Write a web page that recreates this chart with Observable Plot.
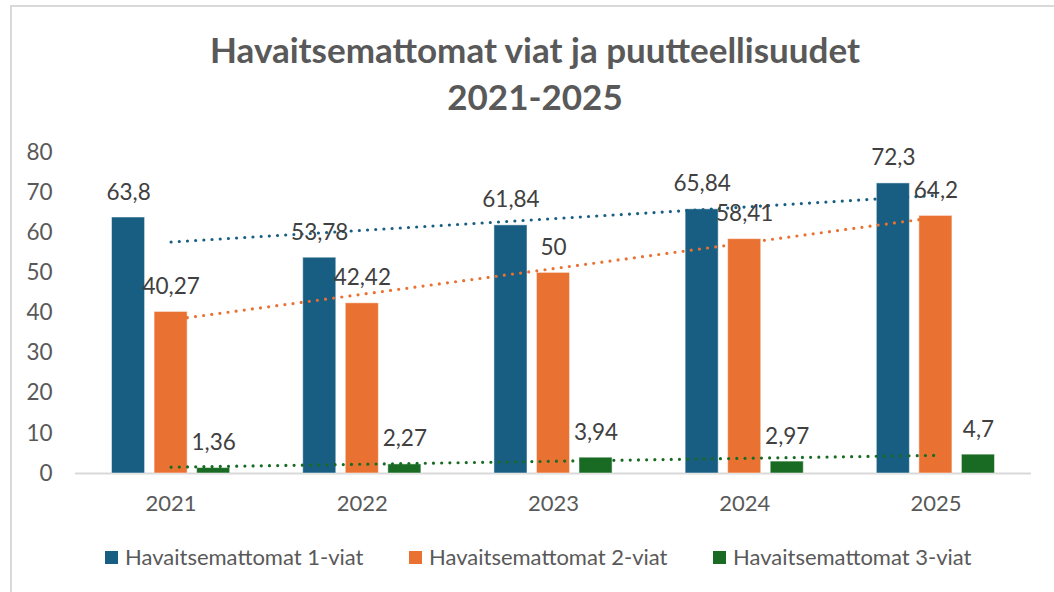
<!DOCTYPE html>
<html>
<head>
<meta charset="utf-8">
<script src="https://cdn.jsdelivr.net/npm/d3@7"></script>
<script src="https://cdn.jsdelivr.net/npm/@observablehq/plot@0.6"></script>
<style>
  html, body { margin: 0; padding: 0; background: #fff; overflow: hidden; width: 1054px; height: 592px; }
  body { position: relative; font-family: Lato, "Open Sans", sans-serif; }
  #frame { position: absolute; left: 10px; top: 5px; width: 1100px; height: 700px; border-left: 2px solid #d9d9d9; border-top: 2px solid #d9d9d9; pointer-events: none; }
  #title { height: 130px; box-sizing: border-box; padding-top: 26px; padding-left: 16px; text-align: center; font-weight: 700; font-size: 35px; line-height: 47px; color: #595959; white-space: nowrap; }
  #chart svg { display: block; }
  #legend { display: flex; padding-left: 105px; margin-top: 14px; height: 26px; line-height: 26px; font-size: 22px; color: #595959; }
  .item { width: 304px; display: flex; align-items: center; }
  .sw { width: 13px; height: 13px; margin-right: 7px; flex: none; }
</style>
</head>
<body>
<div id="frame"></div>
<div id="title">Havaitsemattomat viat ja puutteellisuudet<br>2021-2025</div>
<div id="chart"></div>
<div id="legend"></div>
<script>
const years = [2021, 2022, 2023, 2024, 2025];
const seriesNames = ["Havaitsemattomat 1-viat", "Havaitsemattomat 2-viat", "Havaitsemattomat 3-viat"];
const viat1 = [63.8, 53.78, 61.84, 65.84, 72.3];
const viat2 = [40.27, 42.42, 50, 58.41, 64.2];
const viat3 = [1.36, 2.27, 3.94, 2.97, 4.7];
const colors = ["#175E82", "#E97132", "#196B24"];
const yTicks = [0, 10, 20, 30, 40, 50, 60, 70, 80];

const seriesValues = [viat1, viat2, viat3];
const data = [];
seriesNames.forEach((s, i) => {
  years.forEach((y, j) => data.push({year: y, series: s, idx: i, value: seriesValues[i][j]}));
});

// bar layout within each year group (in year units)
const step = 0.2225, half = 0.0865;
const center = d => d.year + (d.idx - 1) * step;
const fmt = v => String(v).replace(".", ",");

const chart = Plot.plot({
  width: 1054,
  height: 400,
  marginLeft: 75,
  marginRight: 23,
  marginTop: 22,
  marginBottom: 57,
  style: {fontFamily: "Lato, 'Open Sans', sans-serif", color: "#595959", background: "transparent"},
  x: {type: "linear", domain: [2020.5, 2025.5]},
  y: {domain: [0, 80]},
  color: {domain: seriesNames, range: colors},
  marks: [
    Plot.ruleY([0], {stroke: "#d9d9d9", strokeWidth: 2}),
    Plot.rectY(data, {x1: d => center(d) - half, x2: d => center(d) + half, y: "value", fill: "series", stroke: "white", strokeOpacity: 0.5, strokeWidth: 1}),
    Plot.linearRegressionY(data, {x: "year", y: "value", stroke: "series", ci: 0, strokeWidth: 3.2, strokeDasharray: "0,8.2", strokeLinecap: "round"}),
    Plot.text(data, {x: center, y: "value", text: d => fmt(d.value), lineAnchor: "bottom", dy: -18, fill: "#404040", fontSize: 22.5}),
    Plot.axisY({ticks: yTicks, tickSize: 0, tickPadding: 23, fontSize: 22.5, label: null, tickFormat: d => String(d)}),
    Plot.axisX({ticks: years, tickSize: 0, tickPadding: 22, fontSize: 22, label: null, tickFormat: d => String(d)})
  ]
});
document.getElementById("chart").appendChild(chart);

const legend = document.getElementById("legend");
seriesNames.forEach((s, i) => {
  const item = document.createElement("div");
  item.className = "item";
  item.innerHTML = `<span class="sw" style="background:${colors[i]}"></span><span>${s}</span>`;
  legend.appendChild(item);
});
</script>
</body>
</html>
